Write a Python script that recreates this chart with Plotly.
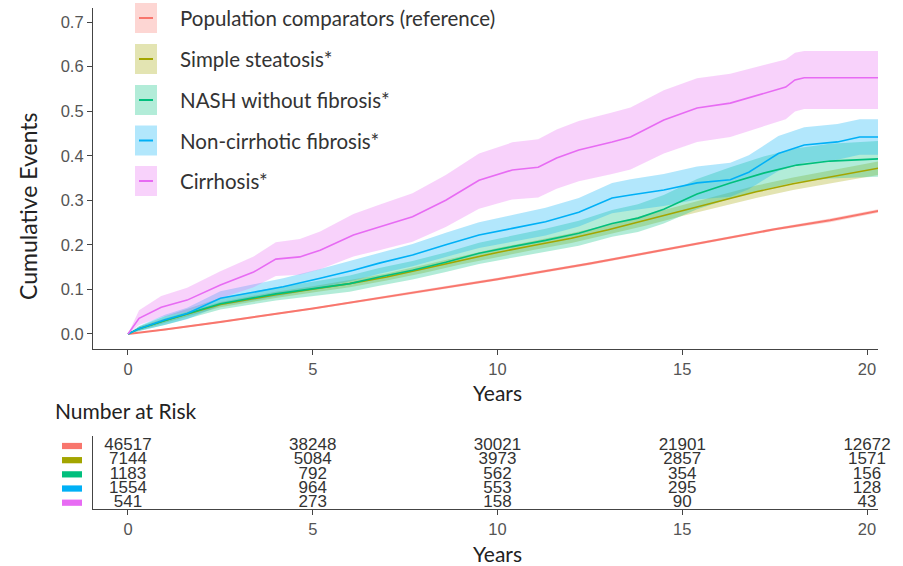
import plotly.graph_objects as go

# ---------------- data ----------------
series_names = ["Population comparators (reference)", "Simple steatosis*",
                "NASH without fibrosis*", "Non-cirrhotic fibrosis*", "Cirrhosis*"]
series_colors = ["#F8766D", "#A3A500", "#00BF7D", "#00B0F6", "#E76BF3"]
band_colors = ["rgba(248,118,109,0.3)", "rgba(163,165,0,0.3)", "rgba(0,191,125,0.3)",
               "rgba(0,176,246,0.3)", "rgba(231,107,243,0.3)"]

t_pop = [0, 1, 2.5, 5, 7.5, 10, 12.5, 15, 17.5, 19, 20.3]
pop = [0, 0.010, 0.027, 0.057, 0.090, 0.123, 0.158, 0.197, 0.235, 0.255, 0.276]
pop_lo = [0, 0.008, 0.025, 0.055, 0.087, 0.120, 0.155, 0.194, 0.232, 0.251, 0.272]
pop_hi = [0, 0.012, 0.029, 0.059, 0.093, 0.126, 0.161, 0.200, 0.238, 0.259, 0.280]

t_ss = [0, 0.3, 1, 2.5, 4, 5, 6, 7, 8, 9, 10, 11, 12, 13, 14, 15, 16, 17, 18, 19, 20.3]
ss = [0, 0.012, 0.030, 0.066, 0.088, 0.100, 0.113, 0.128, 0.146, 0.165, 0.183, 0.199,
      0.215, 0.234, 0.255, 0.277, 0.298, 0.319, 0.337, 0.352, 0.372]
ss_lo = [0, 0.008, 0.025, 0.060, 0.081, 0.093, 0.105, 0.120, 0.137, 0.156, 0.173, 0.189,
         0.204, 0.223, 0.243, 0.265, 0.285, 0.305, 0.323, 0.338, 0.357]
ss_hi = [0, 0.016, 0.035, 0.072, 0.095, 0.107, 0.121, 0.136, 0.155, 0.174, 0.193, 0.209,
         0.226, 0.245, 0.267, 0.289, 0.311, 0.333, 0.351, 0.366, 0.387]

t_nash = [0, 0.3, 1, 2.5, 4, 5, 6, 6.8, 7.7, 8.6, 9.5, 10.4, 11.3, 12.2, 13.1, 13.8,
          14.5, 15.4, 16.3, 17.2, 18.1, 19.0, 20.3]
nash = [0, 0.012, 0.030, 0.068, 0.090, 0.101, 0.113, 0.128, 0.143, 0.161, 0.181, 0.196,
        0.210, 0.226, 0.248, 0.260, 0.280, 0.314, 0.339, 0.361, 0.379, 0.388, 0.393]
nash_lo = [0, 0.007, 0.020, 0.055, 0.075, 0.085, 0.095, 0.108, 0.122, 0.139, 0.157, 0.171,
           0.184, 0.198, 0.218, 0.229, 0.248, 0.280, 0.304, 0.324, 0.341, 0.349, 0.353]
nash_hi = [0, 0.017, 0.040, 0.081, 0.105, 0.117, 0.131, 0.148, 0.164, 0.183, 0.205, 0.221,
           0.236, 0.254, 0.278, 0.291, 0.312, 0.348, 0.374, 0.398, 0.417, 0.427, 0.433]

t_fib = [0, 0.3, 1, 1.6, 2.5, 3.4, 4.2, 5.2, 6.1, 6.8, 7.7, 8.6, 9.5, 10.4, 11.3, 12.2,
         13.1, 13.6, 14.5, 15.4, 16.3, 16.8, 17.6, 18.3, 19.2, 19.8, 20.3]
fib = [0, 0.012, 0.032, 0.046, 0.080, 0.094, 0.106, 0.125, 0.143, 0.159, 0.177, 0.200,
       0.222, 0.237, 0.252, 0.273, 0.305, 0.312, 0.323, 0.339, 0.346, 0.363, 0.405, 0.424,
       0.431, 0.442, 0.442]
fib_lo = [0, 0.006, 0.021, 0.033, 0.064, 0.076, 0.087, 0.104, 0.120, 0.135, 0.152, 0.173,
          0.193, 0.207, 0.221, 0.241, 0.271, 0.277, 0.287, 0.302, 0.308, 0.325, 0.366, 0.384,
          0.391, 0.402, 0.402]
fib_hi = [0, 0.018, 0.043, 0.059, 0.096, 0.112, 0.125, 0.146, 0.166, 0.183, 0.202, 0.227,
          0.251, 0.267, 0.283, 0.305, 0.339, 0.347, 0.359, 0.376, 0.384, 0.401, 0.444, 0.464,
          0.471, 0.482, 0.482]

t_cir = [0, 0.3, 0.9, 1.6, 2.5, 3.4, 4.0, 4.65, 5.2, 6.1, 6.8, 7.7, 8.6, 9.5, 10.4, 11.1,
         11.6, 12.2, 13.1, 13.6, 14.5, 15.4, 16.3, 17.2, 17.8, 18.05, 18.3, 20.3]
cir = [0, 0.035, 0.060, 0.076, 0.110, 0.139, 0.168, 0.173, 0.188, 0.222, 0.240, 0.263,
       0.300, 0.345, 0.368, 0.374, 0.395, 0.413, 0.431, 0.442, 0.480, 0.507, 0.518, 0.540,
       0.554, 0.570, 0.575, 0.575]
cir_lo = [0, 0.020, 0.038, 0.050, 0.080, 0.105, 0.130, 0.133, 0.145, 0.174, 0.188, 0.207,
          0.240, 0.281, 0.302, 0.306, 0.326, 0.343, 0.359, 0.369, 0.405, 0.431, 0.442, 0.466,
          0.482, 0.499, 0.505, 0.505]
cir_hi = [0, 0.053, 0.085, 0.104, 0.141, 0.174, 0.206, 0.213, 0.230, 0.269, 0.290, 0.316,
          0.357, 0.405, 0.430, 0.437, 0.459, 0.478, 0.497, 0.508, 0.547, 0.574, 0.584, 0.604,
          0.616, 0.631, 0.635, 0.635]

risk_years = [0, 5, 10, 15, 20]
risk_pop = [46517, 38248, 30021, 21901, 12672]
risk_ss = [7144, 5084, 3973, 2857, 1571]
risk_nash = [1183, 792, 562, 354, 156]
risk_fib = [1554, 964, 553, 295, 128]
risk_cir = [541, 273, 158, 90, 43]

x_ticks = [0, 5, 10, 15, 20]
y_ticks = [0.0, 0.1, 0.2, 0.3, 0.4, 0.5, 0.6, 0.7]

# ---------------- figure ----------------
W, H = 903, 566
ML, MR, MT, MB = 93, 25, 8, 57
PW, PH = W - ML - MR, H - MT - MB


def px_x(p):
    return (p - ML) / PW


def px_y(p):
    return (H - MB - p) / PH


curves = [
    (t_pop, pop, pop_lo, pop_hi),
    (t_ss, ss, ss_lo, ss_hi),
    (t_nash, nash, nash_lo, nash_hi),
    (t_fib, fib, fib_lo, fib_hi),
    (t_cir, cir, cir_lo, cir_hi),
]
risk_rows = [risk_pop, risk_ss, risk_nash, risk_fib, risk_cir]
line_widths = [2.0, 1.6, 1.6, 1.6, 1.6]

fig = go.Figure()

# confidence bands
for (t, v, lo, hi), bc in zip(curves, band_colors):
    fig.add_trace(go.Scatter(x=t, y=lo, mode="lines", line=dict(width=0),
                             showlegend=False, hoverinfo="skip", xaxis="x", yaxis="y"))
    fig.add_trace(go.Scatter(x=t, y=hi, mode="lines", line=dict(width=0),
                             fill="tonexty", fillcolor=bc, showlegend=False,
                             hoverinfo="skip", xaxis="x", yaxis="y"))

# estimate lines
for (t, v, lo, hi), c, n, lw in zip(curves, series_colors, series_names, line_widths):
    fig.add_trace(go.Scatter(x=t, y=v, mode="lines", line=dict(color=c, width=lw),
                             name=n, showlegend=False, xaxis="x", yaxis="y"))

# number-at-risk table
n_rows = len(risk_rows)
for i, row in enumerate(risk_rows):
    fig.add_trace(go.Scatter(x=risk_years, y=[n_rows - i] * len(risk_years),
                             mode="text", text=[str(v) for v in row],
                             textposition="middle center", cliponaxis=False,
                             textfont=dict(family="Liberation Sans, Arial", size=17,
                                           color="#333333"),
                             showlegend=False, hoverinfo="skip", xaxis="x2", yaxis="y2"))

shapes = []
annotations = []

# table row colour keys
for i, c in enumerate(series_colors):
    yc = n_rows - i
    shapes.append(dict(type="rect", xref="paper", yref="y2",
                       x0=px_x(62), x1=px_x(82), y0=yc - 0.22, y1=yc + 0.22,
                       fillcolor=c, line=dict(width=0)))

# manual legend (box + line + label)
leg_centers = [18, 59, 100, 140.5, 181]
for yc, c, bc, n in zip(leg_centers, series_colors, band_colors, series_names):
    shapes.append(dict(type="rect", xref="paper", yref="paper",
                       x0=px_x(135), x1=px_x(157), y0=px_y(yc + 15), y1=px_y(yc - 15),
                       fillcolor=bc, line=dict(width=0), layer="above"))
    shapes.append(dict(type="line", xref="paper", yref="paper",
                       x0=px_x(139), x1=px_x(153), y0=px_y(yc), y1=px_y(yc),
                       line=dict(color=c, width=2), layer="above"))
    annotations.append(dict(text=n, xref="paper", yref="paper", x=px_x(178), y=px_y(yc),
                            xanchor="left", yanchor="middle", showarrow=False,
                            font=dict(family="Lato, Open Sans", size=20.5, color="#333333")))

title_font = dict(family="Lato, Open Sans", size=21, color="#222222")
annotations += [
    dict(text="Cumulative Events", xref="paper", yref="paper", x=px_x(28), y=px_y(206),
         textangle=-90, showarrow=False, xanchor="center", yanchor="middle",
         font=dict(family="Lato, Open Sans", size=23, color="#222222")),
    dict(text="Years", xref="paper", yref="paper", x=px_x(497), y=px_y(392),
         showarrow=False, xanchor="center", yanchor="middle", font=title_font),
    dict(text="Number at Risk", xref="paper", yref="paper", x=px_x(53), y=px_y(410),
         showarrow=False, xanchor="left", yanchor="middle", font=title_font),
    dict(text="Years", xref="paper", yref="paper", x=px_x(497), y=px_y(553),
         showarrow=False, xanchor="center", yanchor="middle", font=title_font),
]

tick_font = dict(family="Liberation Sans, Arial", size=16.5, color="#555555")
axis_common = dict(showline=True, linecolor="#444444", linewidth=1.2, showgrid=False,
                   zeroline=False, ticks="outside", ticklen=5, tickwidth=1.1,
                   tickcolor="#444444", tickfont=tick_font)

x_range = [-0.947, 20.297]
main_bottom = px_y(349)
table_top = px_y(436)

fig.update_layout(
    width=W, height=H,
    margin=dict(l=ML, r=MR, t=MT, b=MB, pad=0),
    paper_bgcolor="white", plot_bgcolor="white",
    showlegend=False,
    xaxis=dict(domain=[0, 1], anchor="y", range=x_range, tickvals=x_ticks, **axis_common),
    yaxis=dict(domain=[main_bottom, 1], anchor="x", range=[-0.0337, 0.7315],
               tickvals=y_ticks, tickformat=".1f", **axis_common),
    xaxis2=dict(domain=[0, 1], anchor="y2", range=x_range, tickvals=x_ticks, **axis_common),
    yaxis2=dict(domain=[0, table_top], anchor="x2", range=[0.556, 5.705],
                showline=True, linecolor="#444444", linewidth=1.2, showgrid=False,
                zeroline=False, showticklabels=False, ticks=""),
    shapes=shapes,
    annotations=annotations,
)

fig.write_html("out.html")
